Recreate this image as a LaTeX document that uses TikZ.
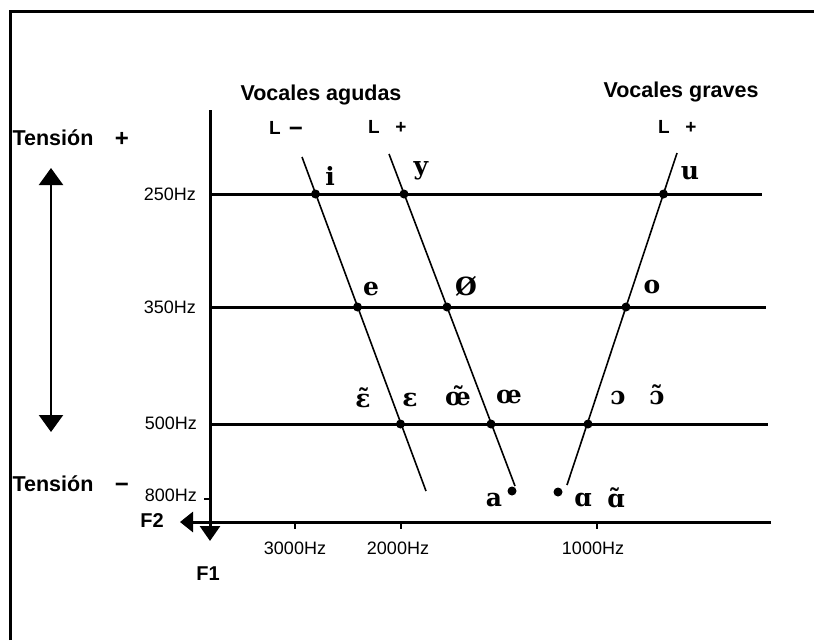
\documentclass[tikz,border=0pt]{standalone}
\usepackage{fontspec}
\setmainfont{Liberation Sans}
\newfontfamily\ipafont{DejaVu Serif}
\newfontfamily\hzfont{Liberation Sans}
\usetikzlibrary{arrows.meta}
\begin{document}
\begin{tikzpicture}[x=1pt,y=-1pt,
  frame/.style={line width=3pt},
  axis/.style={line width=3pt},
  hline/.style={line width=3pt},
  slant/.style={line width=1.6pt},
  tick/.style={line width=2pt},
  dotn/.style={circle,fill=black,inner sep=0pt,minimum size=9pt},
  bsans/.style={font=\fontsize{21.5}{24}\selectfont\bfseries,inner sep=0pt},
  tsign/.style={font=\fontsize{24}{26}\selectfont\bfseries,inner sep=0pt},
  lsign/.style={font=\fontsize{19}{21}\selectfont\bfseries,inner sep=0pt},
  hz/.style={font=\hzfont\fontsize{18}{20}\selectfont,inner sep=0pt},
  fax/.style={font=\hzfont\fontsize{20}{22}\selectfont\bfseries,inner sep=0pt},
  ipa/.style={font=\ipafont\bfseries\fontsize{25}{28}\selectfont,inner sep=0pt}]
\useasboundingbox (0,0) rectangle (814,640);
% frame
\coordinate (fBL) at (10.5,640);
\coordinate (fTL) at (10.5,11.5);
\coordinate (fTR) at (814,11.5);
\draw[frame] (fBL) -- (fTL) -- (fTR);
% axes
\coordinate (v0) at (210,110);
\coordinate (v1) at (210,541);
\draw[axis,-{Triangle[width=20pt 0 0,length=15pt 0 0]}] (v0) -- (v1);
\coordinate (h0) at (771,522);
\coordinate (h1) at (180,522);
\draw[axis,-{Triangle[width=20pt 0 0,length=13pt 0 0]}] (h0) -- (h1);
% horizontal lines
\coordinate (a250) at (210,194); \coordinate (b250) at (762,194);
\coordinate (a350) at (210,307); \coordinate (b350) at (766,307);
\coordinate (a500) at (210,424); \coordinate (b500) at (768,424);
\draw[hline] (a250) -- (b250);
\draw[hline] (a350) -- (b350);
\draw[hline] (a500) -- (b500);
% ticks
\coordinate (t800a) at (204,499); \coordinate (t800b) at (210,499);
\draw[tick] (t800a) -- (t800b);
\coordinate (t3a) at (295,522); \coordinate (t3b) at (295,529);
\coordinate (t2a) at (401,522); \coordinate (t2b) at (401,529);
\coordinate (t1a) at (597,522); \coordinate (t1b) at (597,529);
\draw[tick] (t3a) -- (t3b);
\draw[tick] (t2a) -- (t2b);
\draw[tick] (t1a) -- (t1b);
% tension arrow
\coordinate (tA) at (51,168);
\coordinate (tB) at (51,432);
\draw[line width=2.2pt,{Triangle[width=24pt 0 0,length=17pt 0 0]}-{Triangle[width=24pt 0 0,length=17pt 0 0]}] (tA) -- (tB);
% slanted line 1
\coordinate (s1t) at (302,157); \coordinate (s1b) at (426,491);
\draw[slant] (s1t) -- (s1b);
\node[dotn] (di) at (315.5,194) {};
\node[dotn] (de) at (357.5,307) {};
\node[dotn] (deps) at (400.5,424) {};
% slanted line 2
\coordinate (s2t) at (389,154); \coordinate (s2b) at (515,486);
\draw[slant] (s2t) -- (s2b);
\node[dotn] (dy) at (404,194) {};
\node[dotn] (doe) at (447,307) {};
\node[dotn] (dae) at (491,424) {};
\node[dotn] (da) at (512,491) {};
% slanted line 3
\coordinate (s3t) at (677,153); \coordinate (s3b) at (567,485);
\draw[slant] (s3t) -- (s3b);
\node[dotn] (du) at (663.5,194) {};
\node[dotn] (do) at (626,307) {};
\node[dotn] (dO) at (588,424) {};
\node[dotn] (dA) at (558,492) {};
% titles
\node[bsans] (vag) at (321,95) {Vocales agudas};
\node[bsans] (vgr) at (681,92) {Vocales graves};
\node[bsans] (ten1) at (53,138) {Tensión};
\node[tsign] (pl1) at (122,139) {+};
\node[bsans] (ten2) at (53,484) {Tensión};
\node[tsign,anchor=base] (mi2) at (122,492) {−};
\node[lsign] (L1) at (275,128) {L};
\node[tsign,anchor=base] (m1) at (296,136) {−};
\node[lsign] (L2) at (374,127) {L};
\node[lsign] (p2) at (401,128) {+};
\node[lsign] (L3) at (664,127) {L};
\node[lsign] (p3) at (691,128) {+};
% frequency labels
\node[hz,anchor=east] (f250) at (196,194) {250Hz};
\node[hz,anchor=east] (f350) at (196,307) {350Hz};
\node[hz,anchor=east] (f500) at (197,423) {500Hz};
\node[hz,anchor=east] (f800) at (197,495) {800Hz};
\node[hz] (f3000) at (295,548) {3000Hz};
\node[hz] (f2000) at (398,548) {2000Hz};
\node[hz] (f1000) at (593,548) {1000Hz};
\node[fax] (F2) at (152,521) {F2};
\node[fax] (F1) at (208,574) {F1};
% vowel labels
\node[ipa] (vi) at (330,176) {i};
\node[ipa] (vy) at (421,171) {y};
\node[ipa] (vu) at (690,173) {u};
\node[ipa] (ve) at (371,289) {e};
\node[ipa] (voe) at (466,286) {Ø};
\node[ipa] (vo) at (652,287) {o};
\node[ipa] (veN) at (363,398) {ɛ̃};
\node[ipa] (veps) at (410,400) {ɛ};
\node[ipa] (vaeN) at (458,396) {œ̃};
\node[ipa] (vae) at (509,397) {œ};
\node[ipa] (vO) at (618,398) {ɔ};
\node[ipa] (vON) at (657,395) {ɔ̃};
\node[ipa] (va) at (494,500) {a};
\node[ipa] (vA) at (583,500) {ɑ};
\node[ipa] (vAN) at (616,498) {ɑ̃};
\end{tikzpicture}
\end{document}
